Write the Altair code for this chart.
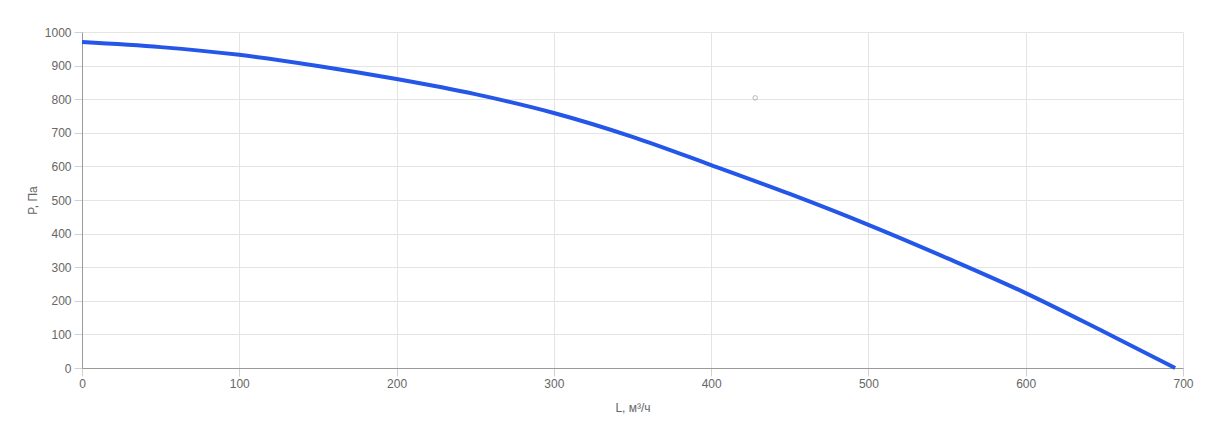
import altair as alt
import pandas as pd

L_vals = [0, 50, 100, 150, 200, 250, 300, 350, 400, 450, 500, 550, 600, 650, 695]
P_vals = [970, 955, 932, 899, 860, 815, 759, 688, 604, 518, 426, 327, 223, 107, 0]
pt_L = [428]
pt_P = [804]
x_ticks = [0, 100, 200, 300, 400, 500, 600, 700]
y_ticks = [0, 100, 200, 300, 400, 500, 600, 700, 800, 900, 1000]

df = pd.DataFrame({"L": L_vals, "P": P_vals})
dp = pd.DataFrame({"L": pt_L, "P": pt_P})

xs = alt.Scale(domain=[0, 700], nice=False, zero=False)
ys = alt.Scale(domain=[0, 1000], nice=False, zero=False)

common = dict(grid=True, gridColor="#e4e4e4", domainColor="#9a9a9a", tickColor="#d0d0d0",
              tickSize=8, labelColor="#666", labelFontSize=12, labelOverlap=False,
              labelFlush=False, format="d",
              titleColor="#666", titleFontSize=12, titleFontWeight="normal",
              labelFont="Liberation Sans", titleFont="Liberation Sans")

xax = alt.Axis(values=x_ticks, tickCount=8, title="L, м³/ч", labelPadding=2,
               titlePadding=13, **common)
yax = alt.Axis(values=y_ticks, tickCount=11, title="P, Па", labelPadding=3,
               titlePadding=5, **common)

line = alt.Chart(df).mark_line(color="#2457e8", strokeWidth=4, interpolate="monotone").encode(
    x=alt.X("L:Q", scale=xs, axis=xax),
    y=alt.Y("P:Q", scale=ys, axis=yax),
)
pt = alt.Chart(dp).mark_point(shape="circle", filled=False, color="#999", size=20, strokeWidth=1).encode(
    x=alt.X("L:Q", scale=xs, axis=xax),
    y=alt.Y("P:Q", scale=ys, axis=yax),
)

chart = alt.layer(line, pt).properties(
    width=1101, height=336,
    autosize=alt.AutoSizeParams(type="none"),
    padding={"left": 74, "top": 24, "right": 25, "bottom": 50},
).configure_view(stroke=None)

chart.save("out.html", embed_options={"renderer": "svg", "actions": False})
